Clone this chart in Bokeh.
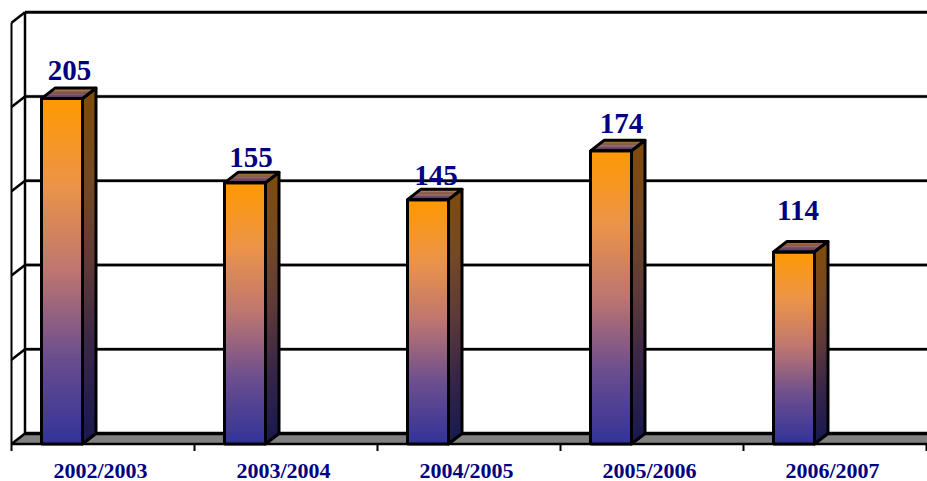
from bokeh.plotting import figure
from bokeh.models import Range1d, ColumnDataSource
from bokeh.embed import file_html
from bokeh.resources import INLINE

seasons = ["2002/2003", "2003/2004", "2004/2005", "2005/2006", "2006/2007"]
values = [205, 155, 145, 174, 114]
wall_ticks = [50, 100, 150, 200, 250]

# layout (pixels on the page, converted to data units below)
PX_X, PX_Y = 183.0, 1.685
DX, DY = 13.5 / PX_X, 10.5 / PX_Y
BAR_LEFT, BAR_W = 30 / PX_X, 41 / PX_X
label_dx = [-6, -7.5, -5.5, -3, -9.5]   # px offset of each label from the bar's centre+depth
label_dy = [28, 25, 24.5, 27, 41]       # px lift of each label above the bar top

FRAME_BOTTOM = 481
X0, X1 = -11 / PX_X, 916 / PX_X
Y0, Y1 = (443.5 - FRAME_BOTTOM) / PX_Y, 443.5 / PX_Y

def mix(stops, t):
    t = max(0.0, min(1.0, t)) * (len(stops) - 1)
    k = min(int(t), len(stops) - 2)
    f = t - k
    return "#%02x%02x%02x" % tuple(round(a + (b - a) * f) for a, b in zip(stops[k], stops[k + 1]))

FRONT = [(255, 153, 0), (236, 148, 72), (190, 118, 112), (108, 78, 142), (51, 51, 153)]
SIDE = [(127, 76, 10), (118, 73, 36), (95, 58, 56), (55, 38, 72), (26, 26, 80)]
TOP = [(168, 112, 40), (88, 58, 125)]

p = figure(width=927, height=481, toolbar_location=None, output_backend="svg",
           x_range=Range1d(X0, X1), y_range=Range1d(Y0, Y1),
           x_axis_location=None, y_axis_location=None,
           min_border_left=0, min_border_right=0, min_border_top=0, min_border_bottom=0,
           outline_line_color=None, background_fill_color="white", border_fill_color="white")
p.grid.visible = False

# floor
p.patch([0, X1 + DX, X1 + DX + DX, DX], [0, 0, DY, DY], fill_color="#808080", line_color=None)
p.line([DX, X1], [DY, DY], line_color="black", line_width=3.5)
p.line([0, X1], [0, 0], line_color="black", line_width=2.5)

# category ticks below the floor
for i in range(len(seasons) + 1):
    p.line([i, i], [0, -7 / PX_Y], line_color="black", line_width=2)

# walls
p.line([0, 0], [0, wall_ticks[-1]], line_color="black", line_width=2)
p.line([DX, DX], [DY, wall_ticks[-1] + DY], line_color="black", line_width=2.5)
for t in [0] + wall_ticks:
    p.line([0, DX], [t, t + DY], line_color="black", line_width=2.5)
for t in wall_ticks[:-1]:
    p.line([DX, X1], [t + DY, t + DY], line_color="#555555", line_width=3.5, line_alpha=0.45)
    p.line([DX, X1], [t + DY, t + DY], line_color="black", line_width=2.5)
p.line([DX, X1], [wall_ticks[-1] + DY] * 2, line_color="black", line_width=3)

# bars
for i, v in enumerate(values):
    l = i + BAR_LEFT
    r = l + BAR_W
    n = int(v * PX_Y / 2)
    edges = [v * k / n for k in range(n + 1)]
    ov = 1.5 / PX_Y
    p.quad(left=l, right=r,
           bottom=edges[:-1], top=[min(e + ov, v) for e in edges[1:]],
           fill_color=[mix(FRONT, 1 - e / v) for e in edges[:-1]], line_color=None)
    p.patches([[r, r + DX, r + DX, r] for _ in edges[:-1]],
              [[a, a + DY, min(b + ov, v) + DY, min(b + ov, v)] for a, b in zip(edges[:-1], edges[1:])],
              fill_color=[mix(SIDE, 1 - e / v) for e in edges[:-1]], line_color=None)
    m = 8
    p.patches([[l + DX * k / m, r + DX * k / m, r + DX * (k + 1.2) / m, l + DX * (k + 1.2) / m] for k in range(m)],
              [[v + DY * k / m, v + DY * k / m, v + DY * (k + 1.2) / m, v + DY * (k + 1.2) / m] for k in range(m)],
              fill_color=[mix(TOP, 1 - k / (m - 1)) for k in range(m)], line_color=None)
    p.patch([r, r + DX, r + DX, r], [0, DY, v + DY, v], fill_color=None, line_color="black", line_width=3, line_join="round")
    p.patch([l, l + DX, r + DX, r], [v, v + DY, v + DY, v], fill_color=None, line_color="black", line_width=3, line_join="round")
    p.quad(left=l, right=r, bottom=0, top=v, fill_color=None, line_color="black", line_width=3)

# value labels
src = ColumnDataSource(dict(
    x=[i + BAR_LEFT + BAR_W / 2 + DX for i in range(len(values))],
    y=values,
    t=[str(v) for v in values],
    dx=label_dx,
    dy=[-d for d in label_dy],
))
p.text("x", "y", text="t", source=src, x_offset="dx", y_offset="dy",
       text_align="center", text_baseline="alphabetic", text_color="#000080",
       text_font={"value": "Liberation Serif"}, text_font_style="bold", text_font_size="29px")

# category labels
cat_src = ColumnDataSource(dict(x=[i + 0.5 for i in range(len(seasons))], y=[0] * len(seasons), t=seasons))
p.text("x", "y", text="t", source=cat_src, x_offset=-2.5, y_offset=26,
       text_align="center", text_baseline="middle", text_color="#000080",
       text_font={"value": "Liberation Serif"}, text_font_style="bold", text_font_size="22px")

open("out.html", "w").write(file_html(p, INLINE))
